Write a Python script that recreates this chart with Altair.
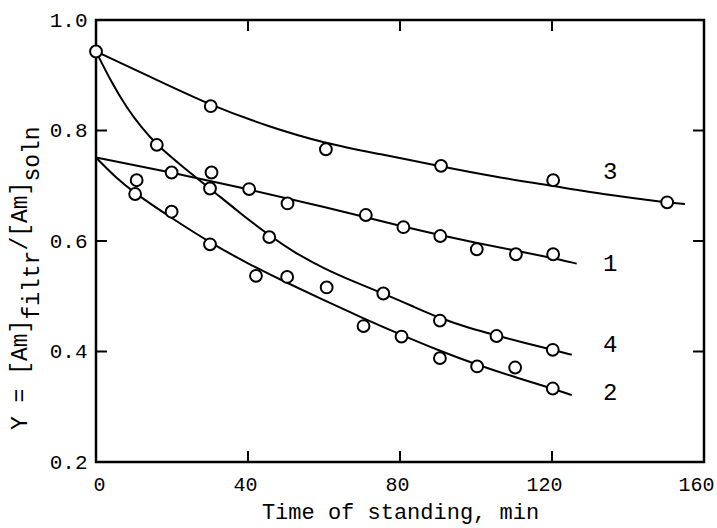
import altair as alt
import pandas as pd

# ---- fitted curves, sampled along each drawn line ----
c1_t = [0, 20, 40, 60, 80, 100, 120, 126.5]
c1_y = [0.751, 0.724, 0.694, 0.662, 0.627, 0.596, 0.570, 0.559]

c2_t = [0, 5, 10.3, 20, 30, 40, 50, 60, 70, 80, 90.5, 100.3, 110, 120.2, 125.2]
c2_y = [0.751, 0.716, 0.686, 0.641, 0.597, 0.559, 0.525, 0.493, 0.461, 0.431,
        0.401, 0.376, 0.354, 0.333, 0.321]

c3_t = [0, 15, 30, 45, 60, 75, 90, 105, 120, 135, 150, 155]
c3_y = [0.943, 0.895, 0.846, 0.808, 0.777, 0.757, 0.736, 0.716, 0.700, 0.683,
        0.670, 0.667]

c4_t = [0, 4, 8, 12, 16, 23, 30, 38, 45.6, 52, 60, 68, 75.6, 83, 90.5, 98,
        105.4, 113, 120.2, 125.2]
c4_y = [0.943, 0.888, 0.842, 0.805, 0.774, 0.733, 0.695, 0.650, 0.610, 0.580,
        0.550, 0.526, 0.505, 0.483, 0.460, 0.443, 0.429, 0.415, 0.403, 0.394]

# ---- measured points ----
p1_t = [10.7, 19.9, 30.4, 40.3, 50.4, 71, 80.9, 90.6, 100.2, 110.5, 120.3]
p1_y = [0.710, 0.724, 0.724, 0.694, 0.668, 0.647, 0.625, 0.609, 0.585, 0.576, 0.576]

p2_t = [10.3, 19.9, 30, 42.1, 50.3, 60.7, 70.4, 80.4, 90.5, 100.3, 110.3, 120.2]
p2_y = [0.685, 0.653, 0.594, 0.537, 0.535, 0.516, 0.446, 0.427, 0.388, 0.373,
        0.371, 0.333]

p3_t = [0, 30.2, 60.5, 90.8, 120.3, 150.3]
p3_y = [0.943, 0.844, 0.766, 0.736, 0.710, 0.670]

p4_t = [16, 30, 45.6, 75.6, 90.5, 105.4, 120.2]
p4_y = [0.774, 0.695, 0.607, 0.505, 0.456, 0.428, 0.403]

# ---- curve numbers ----
lab_text = ["3", "1", "4", "2"]
lab_t = [135.3, 135.3, 135.3, 135.3]
lab_y = [0.725, 0.558, 0.412, 0.325]

# ---- axes ----
x_ticks = [0, 40, 80, 120, 160]
y_ticks = [0.2, 0.4, 0.6, 0.8, 1.0]
x_inner = [40, 80, 120]
y_inner = [0.4, 0.6, 0.8]

x_title = "Time of standing, min"
title_parts = ["Y = [Am]", "filtr", "/[Am]", "soln"]
title_sub = [False, True, False, True]

W, H = 608, 442
FONT = "Liberation Mono"
TICK = 11

curves = pd.concat([
    pd.DataFrame({"t": c1_t, "y": c1_y, "c": "1"}),
    pd.DataFrame({"t": c2_t, "y": c2_y, "c": "2"}),
    pd.DataFrame({"t": c3_t, "y": c3_y, "c": "3"}),
    pd.DataFrame({"t": c4_t, "y": c4_y, "c": "4"}),
])
points = pd.concat([
    pd.DataFrame({"t": p1_t, "y": p1_y, "c": "1"}),
    pd.DataFrame({"t": p2_t, "y": p2_y, "c": "2"}),
    pd.DataFrame({"t": p3_t, "y": p3_y, "c": "3"}),
    pd.DataFrame({"t": p4_t, "y": p4_y, "c": "4"}),
])
labels = pd.DataFrame({"t": lab_t, "y": lab_y, "s": lab_text})

xs = alt.Scale(domain=[0, 160], nice=False, zero=False)
ys = alt.Scale(domain=[0.2, 1.0], nice=False, zero=False)

x_axis = alt.Axis(values=x_ticks, ticks=False, domain=False, grid=False,
                  labelFont=FONT, labelFontSize=20, labelColor="black",
                  labelPadding=12, labelFlush=False,
                  labelOffset={"expr": "datum.value == 0 ? 3 : (datum.value >= 120 ? -8 : -3)"},
                  title=x_title, titleFont=FONT, titleFontSize=22,
                  titleFontWeight="normal", titleColor="black",
                  titleY=56, titleBaseline="alphabetic")
y_axis = alt.Axis(values=y_ticks, format=".1f", ticks=False, domain=False,
                  grid=False, labelFont=FONT, labelFontSize=21,
                  labelColor="black", labelPadding=9, labelFlush=False,
                  title=None)

lines = alt.Chart(curves).mark_line(
    color="black", strokeWidth=2, interpolate="basis"
).encode(
    x=alt.X("t:Q", scale=xs, axis=x_axis),
    y=alt.Y("y:Q", scale=ys, axis=y_axis),
    detail="c:N",
)

circles = alt.Chart(points).mark_point(
    shape="circle", size=140, filled=False, fill="white", fillOpacity=1,
    stroke="black", strokeWidth=2, opacity=1
).encode(x=alt.X("t:Q", scale=xs), y=alt.Y("y:Q", scale=ys))

numbers = alt.Chart(labels).mark_text(
    font=FONT, fontSize=24, color="black", align="center", baseline="middle"
).encode(x=alt.X("t:Q", scale=xs), y=alt.Y("y:Q", scale=ys), text="s:N")

xt = pd.DataFrame({"t": x_inner})
yt = pd.DataFrame({"y": y_inner})
tick_bottom = alt.Chart(xt).mark_rule(color="black", strokeWidth=2).encode(
    x=alt.X("t:Q", scale=xs), y=alt.value(H), y2=alt.value(H - TICK))
tick_top = alt.Chart(xt).mark_rule(color="black", strokeWidth=2).encode(
    x=alt.X("t:Q", scale=xs), y=alt.value(0), y2=alt.value(TICK))
tick_left = alt.Chart(yt).mark_rule(color="black", strokeWidth=2).encode(
    y=alt.Y("y:Q", scale=ys), x=alt.value(0), x2=alt.value(TICK))
tick_right = alt.Chart(yt).mark_rule(color="black", strokeWidth=2).encode(
    y=alt.Y("y:Q", scale=ys), x=alt.value(W), x2=alt.value(W - TICK))

# rotated y-axis title with subscripts, assembled piece by piece
TFS = 23
char_w = 0.6 * TFS
start = 410.0
title_layers = []
for part, sub in zip(title_parts, title_sub):
    title_layers.append(
        alt.Chart(pd.DataFrame({"s": [part]})).mark_text(
            font=FONT, fontSize=TFS, color="black", angle=270,
            align="left", baseline="alphabetic"
        ).encode(text="s:N", x=alt.value(-57 if sub else -69),
                 y=alt.value(start))
    )
    start -= char_w * len(part)

chart = alt.layer(
    tick_bottom, tick_top, tick_left, tick_right,
    lines, circles, numbers, *title_layers
).properties(
    width=W, height=H,
    background="white",
    autosize=alt.AutoSizeParams(type="none"),
    padding={"left": 96, "top": 20, "right": 13, "bottom": 66},
).configure_view(
    stroke="black", strokeWidth=2.5
)

chart.save("out.html", embed_options={"renderer": "svg", "actions": False})
